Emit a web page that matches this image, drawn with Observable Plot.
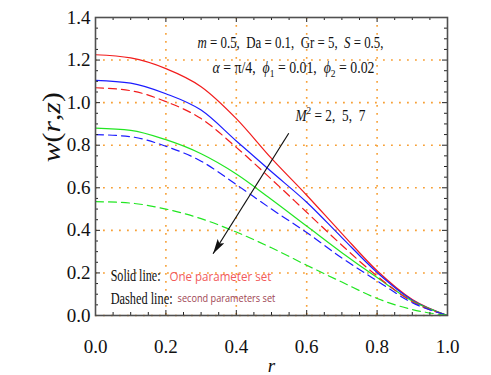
<!DOCTYPE html>
<html><head><meta charset="utf-8">
<script src="https://cdn.jsdelivr.net/npm/d3@7"></script>
<script src="https://cdn.jsdelivr.net/npm/@observablehq/plot@0.6"></script>
<style>html,body{margin:0;padding:0;background:#fff;}</style>
</head><body><div id="chart"></div>
<script>
// ---- data ----
const r           = [0, 0.1, 0.2, 0.3, 0.4, 0.5, 0.6, 0.7, 0.8, 0.9, 1.0];
const solidRed    = [1.225, 1.21, 1.16, 1.075, 0.925, 0.738, 0.565, 0.385, 0.21, 0.075, 0.0];
const solidBlue   = [1.105, 1.092, 1.042, 0.965, 0.82, 0.675, 0.532, 0.366, 0.202, 0.072, 0.0];
const solidGreen  = [0.88, 0.87, 0.826, 0.76, 0.665, 0.545, 0.42, 0.295, 0.178, 0.068, 0.0];
const dashedRed   = [1.07, 1.056, 1.005, 0.925, 0.79, 0.64, 0.485, 0.33, 0.185, 0.065, 0.0];
const dashedBlue  = [0.85, 0.84, 0.795, 0.725, 0.615, 0.5, 0.39, 0.27, 0.163, 0.06, 0.0];
const dashedGreen = [0.535, 0.528, 0.5, 0.455, 0.392, 0.318, 0.236, 0.157, 0.08, 0.028, 0.0];

const xTicks = [0, 0.2, 0.4, 0.6, 0.8, 1.0];
const yTicks = [0, 0.2, 0.4, 0.6, 0.8, 1.0, 1.2, 1.4];
const xGrid  = [0.2, 0.4, 0.6, 0.8];
const yGrid  = [0, 0.2, 0.4, 0.6, 0.8, 1.0, 1.2];
const xMinor = d3.range(0, 21).map(i => i / 20).filter(v => Math.round(v * 20) % 4 !== 0);
const yMinor = d3.range(0, 29).map(i => i / 20).filter(v => Math.round(v * 20) % 4 !== 0);

// arrow (M^2 increasing) endpoints in data units
const arrowFrom = [0.549, 0.856];
const arrowTo   = [0.334, 0.29];

// ---- layout ----
const W = 491, H = 375, mL = 95, mR = 44, mT = 17, mB = 60;
const iw = W - mL - mR, ih = H - mT - mB;
const RED = "#f21c1c", BLUE = "#1c1cff", GREEN = "#22e622";

const series = [
  {key: "sr", values: solidRed, color: RED, dash: null},
  {key: "sb", values: solidBlue, color: BLUE, dash: null},
  {key: "sg", values: solidGreen, color: GREEN, dash: null},
  {key: "dr", values: dashedRed, color: RED, dash: "8,5"},
  {key: "db", values: dashedBlue, color: BLUE, dash: "8,5"},
  {key: "dg", values: dashedGreen, color: GREEN, dash: "8,5"}
];

const serif = "'Liberation Serif','Times New Roman',serif";
const sans = "'Open Sans','Noto Sans',sans-serif";
const grid = {stroke: "#f7a036", strokeWidth: 1.6, strokeDasharray: "1.8,6.2"};
const tickStroke = {stroke: "#222", strokeWidth: 1};

// annotation definitions (text + placement)
const annots = [
  {x: 0.554, y: 1.259, anchor: "middle", size: 16, fam: serif, color: "#111", len: 186,
   parts: [["m","i"],[" = 0.5,  Da = 0.1,  Gr = 5,  ",""],["S","i"],[" = 0.5,",""]]},
  {x: 0.5625, y: 1.141, anchor: "middle", size: 16, fam: serif, color: "#111", len: 162,
   parts: [["α","i"],[" = π/4,  ",""],["ϕ","i"],["1","sub"],[" = 0.01,  ",""],["ϕ","i"],["2","sub"],[" = 0.02",""]]},
  {x: 0.568, y: 0.916, anchor: "start", size: 16, fam: serif, color: "#111", len: 70,
   parts: [["M","i"],["2","sup"],[" = 2,  5,  7",""]]},
  {x: 0.043, y: 0.164, anchor: "start", size: 16, fam: serif, color: "#111", len: 50,
   parts: [["Solid line:",""]]},
  {x: 0.21, y: 0.16, anchor: "start", size: 13, fam: sans, color: "#f25a5a", len: 102,
   parts: [["One parameter set",""]]},
  {x: 0.043, y: 0.056, anchor: "start", size: 16, fam: serif, color: "#111", len: 62,
   parts: [["Dashed line:",""]]},
  {x: 0.233, y: 0.065, anchor: "start", size: 10.5, fam: sans, color: "#9e4452", len: 98,
   parts: [["second parameters set",""]]}
];
const plain = a => a.parts.map(p => p[0]).join("");
const yLabelParts = [["w","i"],["(",""],["r","i"],[",",""],["z","i"],[")",""]];

const marks = [
  Plot.ruleX(xGrid, {x: d => d, ...grid}),
  Plot.ruleY(yGrid, {y: d => d, ...grid}),
  ...series.map(s => Plot.line(r.map((v, i) => ({r: v, w: s.values[i]})), {
    x: "r", y: "w", stroke: s.color, strokeWidth: 1.2, curve: "monotone-x",
    ...(s.dash ? {strokeDasharray: s.dash} : {})
  })),
  // inward ticks on all four sides
  Plot.tickY(yTicks, {y: d => d, insetRight: iw - 5, ...tickStroke}),
  Plot.tickY(yTicks, {y: d => d, insetLeft: iw - 5, ...tickStroke}),
  Plot.tickY(yMinor, {y: d => d, insetRight: iw - 3, ...tickStroke}),
  Plot.tickY(yMinor, {y: d => d, insetLeft: iw - 3, ...tickStroke}),
  Plot.tickX(xTicks, {x: d => d, insetTop: ih - 5, ...tickStroke}),
  Plot.tickX(xTicks, {x: d => d, insetBottom: ih - 5, ...tickStroke}),
  Plot.tickX(xMinor, {x: d => d, insetTop: ih - 3, ...tickStroke}),
  Plot.tickX(xMinor, {x: d => d, insetBottom: ih - 3, ...tickStroke}),
  Plot.frame({stroke: "#505050", strokeWidth: 1.6}),
  Plot.link([0], {x1: () => arrowFrom[0], y1: () => arrowFrom[1], x2: () => arrowTo[0], y2: () => arrowTo[1],
    stroke: "#111", strokeWidth: 1.2}),
  ...annots.map(a => Plot.text([a], {x: "x", y: "y", text: plain,
    textAnchor: a.anchor, lineAnchor: "middle", fontSize: a.size, fontFamily: a.fam, fill: a.color})),
  Plot.text(["w(r,z)"], {frameAnchor: "left", y: () => 0.72, dx: -36, text: d => d, rotate: -90,
    fontSize: 25, fontFamily: serif, fill: "#111", lineAnchor: "middle"}),
  Plot.text(["r"], {frameAnchor: "bottom", dy: 50, text: d => d, fontSize: 19, fontStyle: "italic",
    fontFamily: serif, fill: "#111", lineAnchor: "middle"})
];

const svg = Plot.plot({
  width: W, height: H,
  marginLeft: mL, marginRight: mR, marginTop: mT, marginBottom: mB,
  style: {fontFamily: serif, fontSize: "19px", background: "#fff", color: "#111"},
  x: {domain: [0, 1], ticks: xTicks, tickFormat: d3.format(".1f"), tickSize: 0, tickPadding: 24, label: null},
  y: {domain: [0, 1.4], ticks: yTicks, tickFormat: d3.format(".1f"), tickSize: 0, tickPadding: 5, label: null},
  marks
});
document.getElementById("chart").appendChild(svg);

// ---- rich text (italics, sub/superscripts), found by their plain content ----
function rich(str, parts, fs, len) {
  const t = d3.select(svg).selectAll("text").filter(function () { return this.textContent === str; });
  t.each(function () {
    const node = this, el = d3.select(node);
    el.text(null);
    let shift = 0;
    for (const [s, st] of parts) {
      const ts = el.append("tspan").text(s);
      if (st.includes("i")) ts.attr("font-style", "italic");
      const target = st === "sub" ? 0.28 * fs : st === "sup" ? -0.38 * fs : 0;
      if (st === "sub" || st === "sup") ts.attr("font-size", Math.round(fs * 0.68));
      if (target !== shift) { ts.attr("dy", target - shift); shift = target; }
    }
    // horizontally condense the glyphs to the reference width
    const natural = node.getComputedTextLength();
    if (len && natural > 0) {
      const s = len / natural;
      const x = +node.getAttribute("x") || 0, y = +node.getAttribute("y") || 0;
      const tr = node.getAttribute("transform") || "";
      node.removeAttribute("x"); node.removeAttribute("y");
      node.setAttribute("transform", `${tr} translate(${x},${y}) scale(${s.toFixed(4)},1)`.trim());
    }
  });
}
annots.forEach(a => rich(plain(a), a.parts, a.size, a.len));
rich("w(r,z)", yLabelParts, 25, 70);

// filled arrow head
const defs = d3.select(svg).insert("defs", ":first-child");
defs.append("marker").attr("id", "ahead").attr("viewBox", "0 0 15 8")
  .attr("refX", 15).attr("refY", 4).attr("markerWidth", 15).attr("markerHeight", 8)
  .attr("markerUnits", "userSpaceOnUse").attr("orient", "auto")
  .append("path").attr("d", "M0,0L15,4L0,8L3,4Z").attr("fill", "#111");
d3.select(svg).selectAll('g[aria-label="link"] path').attr("marker-end", "url(#ahead)");
</script>
</body></html>
